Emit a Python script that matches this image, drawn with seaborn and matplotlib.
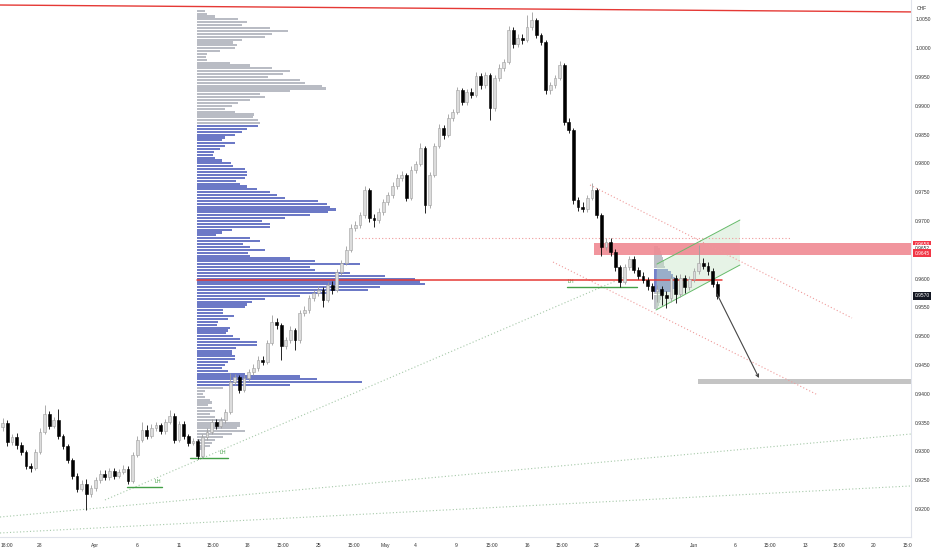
import matplotlib
matplotlib.use("Agg")
import numpy as np
import matplotlib.pyplot as plt
import seaborn as sns
from matplotlib.patches import Rectangle, Polygon

# USDCHF-style candles, 3 bars per trading day, day 0 = Mar 28
bar_start = -2.6
bar_step = 1 / 3
first_open = 0.9342
closes = [
    0.9349, 0.9316, 0.9325, 0.9311, 0.9299, 0.9275, 0.9271, 0.9299, 0.9334, 0.9365,
    0.9344, 0.9355, 0.9327, 0.9309, 0.9285, 0.9257, 0.9235, 0.9243, 0.9226, 0.9236,
    0.9250, 0.9261, 0.9256, 0.9266, 0.9257, 0.9264, 0.9270, 0.9249, 0.9294, 0.9320,
    0.9337, 0.9327, 0.9341, 0.9346, 0.9335, 0.9351, 0.9362, 0.9320, 0.9348, 0.9327,
    0.9315, 0.9318, 0.9292, 0.9325, 0.9334, 0.9351, 0.9344, 0.9355, 0.9368, 0.9421,
    0.9429, 0.9407, 0.9427, 0.9438, 0.9445, 0.9459, 0.9455, 0.9488, 0.9525, 0.9519,
    0.9483, 0.9493, 0.9511, 0.9493, 0.9540, 0.9546, 0.9566, 0.9575, 0.9580, 0.9563,
    0.9589, 0.9580, 0.9611, 0.9627, 0.9650, 0.9688, 0.9693, 0.9710, 0.9754, 0.9705,
    0.9702, 0.9716, 0.9733, 0.9745, 0.9761, 0.9775, 0.9780, 0.9740, 0.9789, 0.9799,
    0.9827, 0.9728, 0.9780, 0.9830, 0.9861, 0.9849, 0.9879, 0.9889, 0.9927, 0.9907,
    0.9924, 0.9919, 0.9952, 0.9936, 0.9953, 0.9896, 0.9948, 0.9966, 0.9976, 1.0032,
    1.0007, 1.0018, 1.0014, 1.0037, 1.0049, 1.0023, 1.0011, 0.9927, 0.9936, 0.9948,
    0.9971, 0.9872, 0.9858, 0.9736, 0.9724, 0.9720, 0.9740, 0.9754, 0.9710, 0.9655,
    0.9664, 0.9646, 0.9620, 0.9594, 0.9620, 0.9634, 0.9615, 0.9605, 0.9598, 0.9587,
    0.9579, 0.9582, 0.9572, 0.9566, 0.9601, 0.9573, 0.9601, 0.9585, 0.9599, 0.9613,
    0.9627, 0.9622, 0.9613, 0.9591, 0.9570,
]
highs = [
    0.9358, 0.9354, 0.9331, 0.9332, 0.9316, 0.9303, 0.9280, 0.9304, 0.9340, 0.9381,
    0.9370, 0.9360, 0.9374, 0.9331, 0.9313, 0.9289, 0.9262, 0.9250, 0.9252, 0.9242,
    0.9256, 0.9268, 0.9267, 0.9272, 0.9271, 0.9270, 0.9276, 0.9274, 0.9299, 0.9326,
    0.9351, 0.9345, 0.9347, 0.9351, 0.9350, 0.9356, 0.9372, 0.9366, 0.9353, 0.9352,
    0.9331, 0.9323, 0.9322, 0.9330, 0.9340, 0.9357, 0.9356, 0.9360, 0.9373, 0.9436,
    0.9434, 0.9433, 0.9432, 0.9443, 0.9451, 0.9465, 0.9466, 0.9494, 0.9537, 0.9531,
    0.9523, 0.9499, 0.9517, 0.9515, 0.9546, 0.9552, 0.9572, 0.9581, 0.9588, 0.9585,
    0.9594, 0.9596, 0.9617, 0.9633, 0.9656, 0.9694, 0.9700, 0.9716, 0.9760, 0.9758,
    0.9712, 0.9722, 0.9739, 0.9751, 0.9767, 0.9781, 0.9786, 0.9784, 0.9795, 0.9805,
    0.9835, 0.9830, 0.9785, 0.9836, 0.9868, 0.9866, 0.9885, 0.9895, 0.9933, 0.9931,
    0.9930, 0.9931, 0.9958, 0.9957, 0.9959, 0.9957, 0.9954, 0.9972, 0.9982, 1.0038,
    1.0036, 1.0025, 1.0024, 1.0058, 1.0063, 1.0053, 1.0027, 1.0015, 0.9942, 0.9954,
    0.9977, 0.9975, 0.9878, 0.9862, 0.9742, 0.9733, 0.9746, 0.9766, 0.9758, 0.9714,
    0.9670, 0.9670, 0.9651, 0.9624, 0.9626, 0.9640, 0.9639, 0.9620, 0.9611, 0.9603,
    0.9592, 0.9589, 0.9587, 0.9578, 0.9607, 0.9606, 0.9608, 0.9606, 0.9605, 0.9619,
    0.9658, 0.9635, 0.9628, 0.9618, 0.9595,
]
lows = [
    0.9336, 0.9310, 0.9311, 0.9305, 0.9294, 0.9269, 0.9265, 0.9268, 0.9295, 0.9330,
    0.9339, 0.9340, 0.9322, 0.9304, 0.9280, 0.9252, 0.9230, 0.9231, 0.9198, 0.9220,
    0.9232, 0.9246, 0.9250, 0.9251, 0.9252, 0.9253, 0.9260, 0.9244, 0.9246, 0.9290,
    0.9316, 0.9322, 0.9323, 0.9336, 0.9330, 0.9331, 0.9347, 0.9315, 0.9316, 0.9322,
    0.9310, 0.9311, 0.9287, 0.9289, 0.9320, 0.9330, 0.9339, 0.9340, 0.9350, 0.9365,
    0.9416, 0.9402, 0.9403, 0.9422, 0.9433, 0.9440, 0.9450, 0.9451, 0.9484, 0.9512,
    0.9459, 0.9478, 0.9488, 0.9476, 0.9489, 0.9535, 0.9541, 0.9561, 0.9570, 0.9551,
    0.9559, 0.9574, 0.9576, 0.9606, 0.9623, 0.9646, 0.9682, 0.9688, 0.9705, 0.9699,
    0.9690, 0.9697, 0.9711, 0.9728, 0.9740, 0.9756, 0.9770, 0.9734, 0.9736, 0.9784,
    0.9795, 0.9714, 0.9722, 0.9776, 0.9826, 0.9843, 0.9845, 0.9874, 0.9885, 0.9901,
    0.9902, 0.9913, 0.9915, 0.9930, 0.9931, 0.9875, 0.9891, 0.9943, 0.9961, 0.9972,
    1.0001, 1.0002, 1.0008, 1.0010, 1.0032, 1.0018, 1.0006, 0.9921, 0.9920, 0.9931,
    0.9944, 0.9866, 0.9852, 0.9730, 0.9718, 0.9716, 0.9715, 0.9736, 0.9705, 0.9640,
    0.9650, 0.9640, 0.9614, 0.9585, 0.9590, 0.9615, 0.9609, 0.9599, 0.9592, 0.9580,
    0.9565, 0.9560, 0.9555, 0.9549, 0.9560, 0.9558, 0.9568, 0.9575, 0.9580, 0.9594,
    0.9608, 0.9616, 0.9607, 0.9585, 0.9565,
]

# fixed range volume profile (Apr 12 -> right edge)
profile_left = 11.35
profile_top = 1.0065
profile_step = 0.0005
value_area = (0.9413, 0.9867)
poc_price = 0.9597
profile_volume = [
    8, 10, 18, 41, 50, 45, 73, 91, 75, 68, 45, 36, 40, 38, 23, 10, 9, 10, 33, 53,
    75, 93, 86, 71, 103, 108, 125, 129, 93, 63, 68, 53, 41, 35, 28, 38, 57, 56, 61, 63,
    61, 50, 45, 38, 28, 25, 38, 28, 23, 17, 16, 18, 25, 34, 36, 48, 50, 50, 48, 39,
    43, 50, 60, 73, 80, 88, 121, 130, 133, 139, 131, 113, 88, 65, 73, 73, 35, 25, 19, 53,
    63, 46, 53, 68, 51, 53, 93, 118, 163, 113, 118, 153, 188, 218, 223, 228, 183, 171, 130, 103,
    68, 55, 50, 48, 26, 26, 37, 31, 21, 20, 33, 31, 29, 36, 43, 60, 60, 39, 35, 35,
    38, 38, 31, 28, 25, 31, 48, 103, 120, 165, 93,
    26, 8, 6, 8, 13, 15, 11, 15, 18, 13, 18, 28, 43, 43, 40, 48, 35, 26, 18, 15, 13, 8,
]
# small profile on the late-May range
mini_left = 44.18
mini_top = 0.9655
mini_area = (0.9578, 0.9617)
mini_volume = [4, 6, 7, 8, 9, 10, 10, 11, 14, 17, 19, 21, 22, 22, 21, 18, 10, 8, 7, 6, 5, 4]

price_ticks = [1.0050, 1.0000, 0.9950, 0.9900, 0.9850, 0.9800, 0.9750, 0.9700, 0.9600,
               0.9550, 0.9500, 0.9450, 0.9400, 0.9350, 0.9300, 0.9250, 0.9200]
time_ticks = [-2.3, 0, 4.02, 7.04, 10.06, 12.5, 15.0, 17.53, 20.05, 22.63, 24.86, 27.01,
              29.96, 32.54, 35.06, 37.57, 40.02, 43.03, 47.06, 50.0, 52.52, 55.03, 57.47,
              59.99, 62.43]
time_labels = ["18:00", "28", "Apr", "6", "11", "15:00", "18", "15:00", "25", "15:00", "May",
               "4", "9", "15:00", "16", "15:00", "23", "26", "Jun", "6", "15:00", "13",
               "15:00", "20", "15:0"]

sns.set_theme(style="white")
plt.rcParams['font.family'] = ['Liberation Sans', 'DejaVu Sans']

fig = plt.figure(figsize=(9.32, 5.5), dpi=100)
ax = fig.add_axes([0, 13 / 550, 911 / 932, 537 / 550])
ax.set_xlim(-2.8, 62.65)
ax.set_ylim(0.91514, 1.00837)

px_per_day = 13.92

# volume profile
prof_prices = profile_top - profile_step * np.arange(len(profile_volume))
in_va = (prof_prices >= value_area[0]) & (prof_prices <= value_area[1])
prof_colors = np.where(in_va, "#5c6bc0", "#b2b5be")
ax.barh(prof_prices, np.array(profile_volume) / px_per_day, left=profile_left,
        height=0.00037, color=prof_colors, alpha=0.9, linewidth=0, zorder=1)

mini_prices = mini_top - profile_step * np.arange(len(mini_volume))
mini_in = (mini_prices >= mini_area[0]) & (mini_prices <= mini_area[1])
ax.barh(mini_prices, np.array(mini_volume) / px_per_day, left=mini_left,
        height=0.00048, color=np.where(mini_in, "#5c6bc0", "#b2b5be"),
        alpha=0.85, linewidth=0, zorder=1)

# zones
ax.add_patch(Rectangle((39.87, 0.9641), 62.65 - 39.87, 0.0021, facecolor="#f08a93",
                       edgecolor="none", alpha=0.9, zorder=1.5))
ax.add_patch(Rectangle((47.34, 0.9417), 62.65 - 47.34, 0.0009, facecolor="#c4c4c4",
                       edgecolor="none", zorder=1.5))

# parallel channel
chan = [(44.33, 0.95455), (50.36, 0.96236), (50.36, 0.97017), (44.40, 0.96253)]
ax.add_patch(Polygon(chan, closed=True, facecolor="#c8e6c9", alpha=0.45,
                     edgecolor="none", zorder=1.2))
sns.lineplot(x=[44.33, 50.36], y=[0.95455, 0.96236], ax=ax, color="#66bb6a", lw=0.7, zorder=2)
sns.lineplot(x=[44.40, 50.36], y=[0.96253, 0.97017], ax=ax, color="#66bb6a", lw=0.7, zorder=2)

# trend lines
ax.plot([-2.8, 62.65], [1.0075, 1.0063], color="#e53935", lw=1.0, zorder=2)
ax.plot([profile_left, 49.07], [poc_price, poc_price], color="#e53935", lw=1.1, zorder=2.5)
ax.plot([22.7, 53.95], [0.9670, 0.9670], color="#ef9a9a", lw=0.8, ls=(0, (1, 2)), zorder=1.6)
ax.plot([39.59, 58.41], [0.97625, 0.95316], color="#ef9a9a", lw=0.8, ls=(0, (1, 2)), zorder=1.6)
ax.plot([36.93, 55.96], [0.96288, 0.93979], color="#ef9a9a", lw=0.8, ls=(0, (1, 2)), zorder=1.6)
ax.plot([4.74, 42.10], [0.92157, 0.96028], color="#a5c8a8", lw=0.8, ls=(0, (1, 2)), zorder=1.6)
ax.plot([-2.8, 62.65], [0.91861, 0.93302], color="#a5c8a8", lw=0.8, ls=(0, (1, 2)), zorder=1.6)
ax.plot([-2.8, 62.65], [0.91584, 0.92400], color="#a5c8a8", lw=0.8, ls=(0, (1, 2)), zorder=1.6)

# LH levels
for x0, x1, lvl, tx in [(6.32, 8.84, 0.92382, 8.55), (10.85, 13.58, 0.92886, 13.22),
                        (37.93, 42.96, 0.95854, 38.22)]:
    ax.plot([x0, x1], [lvl, lvl], color="#43a047", lw=1.0, zorder=2)
    ax.text(tx, lvl + 0.0009, "LH", color="#43a047", fontsize=3.8, ha="center",
            va="center", zorder=2)

# candles
opens = [first_open] + closes[:-1]
xs = bar_start + bar_step * np.arange(len(closes))
o = np.array(opens)
c = np.array(closes)
up = c >= o
ax.vlines(xs[up], np.array(lows)[up], np.array(highs)[up], color="#9e9e9e", lw=0.6, zorder=3)
ax.vlines(xs[~up], np.array(lows)[~up], np.array(highs)[~up], color="#000000", lw=0.6, zorder=3)
ax.bar(xs[up], np.maximum(c - o, 0.00005)[up], bottom=o[up], width=0.2,
       color="#dcdcdc", edgecolor="#9e9e9e", linewidth=0.4, zorder=4)
ax.bar(xs[~up], (o - c)[~up], bottom=c[~up], width=0.2,
       color="#000000", edgecolor="#000000", linewidth=0.4, zorder=4)

# projection arrow
ax.annotate("", xy=(51.73, 0.94274), xytext=(48.71, 0.95733),
            arrowprops=dict(arrowstyle="->", color="#444444", lw=0.8,
                            shrinkA=0, shrinkB=0, mutation_scale=5), zorder=5)

# axes styling
ax.yaxis.tick_right()
ax.set_yticks(price_ticks)
ax.set_yticklabels([f"{p:.4f}" for p in price_ticks])
ax.set_xticks(time_ticks)
ax.set_xticklabels(time_labels)
ax.tick_params(axis="both", length=0, labelsize=3.6, labelcolor="#333333")
ax.tick_params(axis="y", pad=3)
ax.tick_params(axis="x", pad=4)
for s in ["top", "left"]:
    ax.spines[s].set_visible(False)
for s in ["right", "bottom"]:
    ax.spines[s].set_color("#e0e3eb")
    ax.spines[s].set_linewidth(0.8)
ax.grid(False)

# price labels on the scale
ytf = ax.get_yaxis_transform()
for val, txt, bg, fg in [(0.9659, "0.9658", "#f23645", "white"),
                         (0.96515, "0.9652", "white", "#333333"),
                         (0.9644, "0.9645", "#f23645", "white"),
                         (0.9570, "0.9570", "#131722", "white")]:
    ax.text(1.004, val, txt, transform=ytf, fontsize=3.5, color=fg, ha="left", va="center",
            bbox=dict(boxstyle="square,pad=0.3", facecolor=bg, edgecolor="none"), zorder=6,
            clip_on=False)

fig.text(917 / 932, 1 - 8 / 550, "CHF", fontsize=3.6, color="#333333", va="center")

fig.savefig("out.png", dpi=100, facecolor="white")
